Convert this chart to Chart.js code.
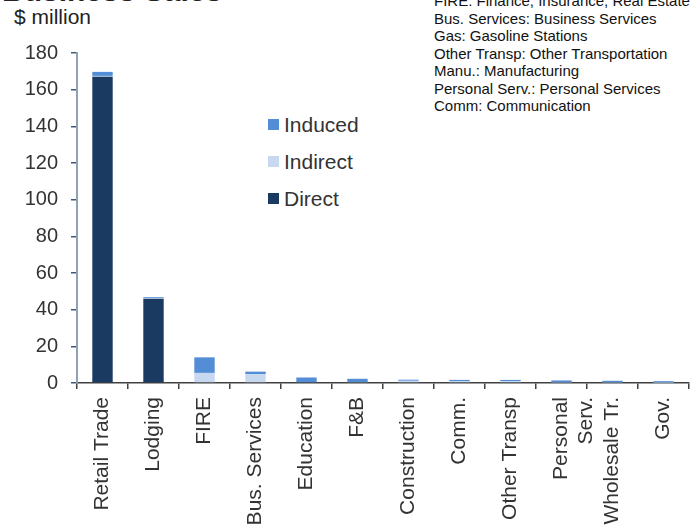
<!DOCTYPE html>
<html>
<head>
<meta charset="utf-8">
<title>Business Sales</title>
<script src="https://cdn.jsdelivr.net/npm/chart.js@4"></script>
<style>
  html, body { margin: 0; padding: 0; background: #fff; overflow: hidden; }
  body { width: 699px; height: 529px; position: relative; font-family: "Liberation Sans", Arial, sans-serif; }
  #chart { position: absolute; left: 0; top: 0; }
  .title { position: absolute; left: 2px; top: -24px; font-size: 30px; line-height: 30px; font-weight: bold; color: #222; white-space: nowrap; }
  .unit { position: absolute; left: 14px; top: 5px; font-size: 21px; color: #222; }
  .notes { position: absolute; left: 434px; top: -8px; font-size: 15px; line-height: 17.5px; color: #111; white-space: nowrap; }
  .legend { position: absolute; left: 268px; top: 106px; }
  .legend div { height: 37px; font-size: 21px; color: #333; display: flex; align-items: center; }
  .legend span { display: inline-block; width: 11px; height: 11px; margin-right: 5px; }
</style>
</head>
<body>
<div class="title">Business Sales</div>
<div class="unit">$ million</div>
<div class="notes" id="notes"></div>
<div class="legend" id="legend"></div>
<canvas id="chart" width="699" height="529"></canvas>
<script>
// Sectors on the x axis
const sectors = [
  'Retail Trade', 'Lodging', 'FIRE', 'Bus. Services', 'Education', 'F&B',
  'Construction', 'Comm.', 'Other Transp', ['Personal', 'Serv.'], 'Wholesale Tr.', 'Gov.'
];

// Sales by effect type, $ million
const direct   = [167, 46, 0, 0, 0, 0, 0, 0, 0, 0, 0, 0];
const indirect = [0.5, 0.3, 5.5, 4.8, 0, 0.5, 1.2, 1.1, 1.1, 0.3, 0.3, 0.2];
const induced  = [2.2, 0.5, 8.5, 1.4, 3.0, 1.8, 0.6, 0.6, 0.6, 1.1, 0.9, 0.8];

const yTicks = [0, 20, 40, 60, 80, 100, 120, 140, 160, 180];

const abbreviations = [
  'FIRE: Finance, Insurance, Real Estate',
  'Bus. Services: Business Services',
  'Gas: Gasoline Stations',
  'Other Transp: Other Transportation',
  'Manu.: Manufacturing',
  'Personal Serv.: Personal Services',
  'Comm: Communication'
];

const series = [
  { label: 'Direct', data: direct, color: '#1b3a62' },
  { label: 'Indirect', data: indirect, color: '#c6d9f1' },
  { label: 'Induced', data: induced, color: '#538dd5' }
];

document.getElementById('notes').innerHTML = abbreviations.map(t => `<div>${t}</div>`).join('');

// legend lists the top segment first
document.getElementById('legend').innerHTML = series.slice().reverse()
  .map(s => `<div><span style="background:${s.color}"></span>${s.label}</div>`).join('');

const font = { family: "'Liberation Sans', Arial, sans-serif", size: 20 };

new Chart(document.getElementById('chart'), {
  type: 'bar',
  data: {
    labels: sectors,
    datasets: series.map(s => ({
      label: s.label,
      data: s.data,
      backgroundColor: s.color,
      borderWidth: 0,
      barPercentage: 0.4,
      categoryPercentage: 1.0
    }))
  },
  options: {
    responsive: false,
    animation: false,
    layout: { padding: { top: 53, right: 10, left: 0, bottom: 0 } },
    plugins: {
      legend: { display: false },
      tooltip: { enabled: false }
    },
    scales: {
      x: {
        stacked: true,
        afterFit: (scale) => { scale.height = 146; },
        border: { color: '#404040', width: 1.5 },
        grid: {
          drawOnChartArea: false,
          color: '#404040',
          tickLength: 6,
          lineWidth: 1.5
        },
        ticks: {
          color: '#333',
          font: { family: font.family, size: 21 },
          minRotation: 90,
          maxRotation: 90,
          autoSkip: false,
          padding: 8
        }
      },
      y: {
        stacked: true,
        min: 0,
        max: 180,
        afterFit: (scale) => { scale.width = 77; },
        afterBuildTicks: (scale) => { scale.ticks = yTicks.map(v => ({ value: v })); },
        border: { color: '#8ea1b6', width: 2 },
        grid: {
          drawOnChartArea: false,
          color: '#3d5a7a',
          tickLength: 6,
          lineWidth: 1.5
        },
        ticks: {
          color: '#333',
          font: font,
          padding: 13
        }
      }
    }
  }
});
</script>
</body>
</html>
